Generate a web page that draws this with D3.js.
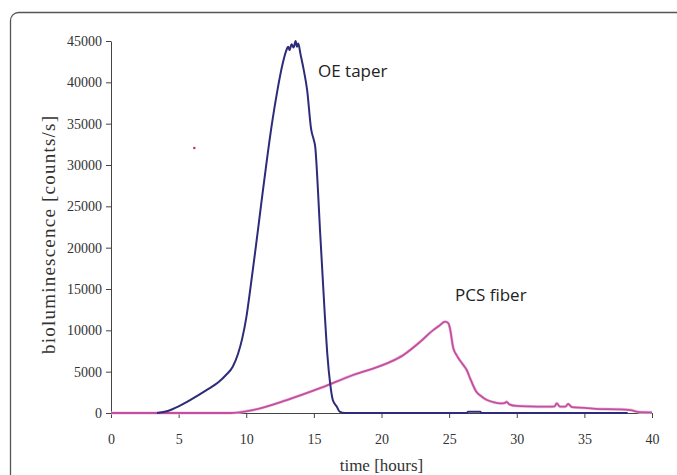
<!DOCTYPE html>
<html>
<head>
<meta charset="utf-8">
<script src="https://cdn.jsdelivr.net/npm/d3@7"></script>
<style>
    html, body { margin: 0; padding: 0; background: #fff; }
    #chart { width: 677px; height: 475px; }
    .axis path, .axis line { stroke: #444; stroke-width: 1; }
    .axis text { font-family: "Liberation Serif", "DejaVu Serif", serif; font-size: 14px; fill: #333; }
    .axis-title { font-family: "Liberation Serif", "DejaVu Serif", serif; font-size: 17px; fill: #333; }
    .note { font-family: "Open Sans", "Noto Sans", sans-serif; font-size: 17px; fill: #222; }
</style>
</head>
<body>
<div id="chart"></div>
<script>
"use strict";

// Values (hours, counts/s).
const xTicks = [0, 5, 10, 15, 20, 25, 30, 35, 40];
const yTicks = [0, 5000, 10000, 15000, 20000, 25000, 30000, 35000, 40000, 45000];

const taperHours = [3.4, 4.2, 5.0, 6.0, 7.0, 8.0, 8.5, 9.0, 9.4, 9.7, 10.0, 10.3, 10.7, 11.1, 11.5, 11.9, 12.3, 12.7,
    12.95, 13.1, 13.2, 13.35, 13.5, 13.65, 13.75, 13.85, 14.0, 14.25, 14.5, 14.8, 15.0, 15.1, 15.3, 15.45,
    15.8, 16.0, 16.2, 16.4, 16.7, 16.9, 17.3, 20, 26.3, 26.4, 27.3, 27.4, 32, 38.2];
const taperValues = [0, 250, 800, 1700, 2700, 3800, 4600, 5600, 7200, 9000, 11500, 15000, 20000, 25200, 30300, 35000, 39000, 42300,
    43800, 44300, 43900, 44600, 44200, 45000, 44300, 44700, 43500, 41500, 39100, 34300, 33000, 32200, 27000, 22200,
    12100, 7000, 3600, 1570, 760, 160, 0, 0, 0, 150, 150, 0, 0, 0];

const fiberHours = [0, 8.5, 8.8, 10.5, 13, 15.45, 17.9, 20.4, 21.6, 22.85, 23.8, 24.3, 24.7, 24.95, 25.06,
    25.3, 25.55, 25.7, 26.05, 26.3, 26.55, 27.0, 27.4, 27.8, 28.3, 28.75, 29.1, 29.25, 29.45, 30.0, 31.0, 32.5,
    32.8, 32.95, 33.2, 33.6, 33.8, 34.1, 35.0, 36.15, 37.5, 38.0, 38.4, 39.1, 40];
const fiberValues = [0, 0, 0, 360, 1570, 3000, 4600, 6000, 7000, 8600, 10000, 10600, 11050, 10850, 10250,
    7900, 7000, 6600, 5800, 5200, 4200, 2600, 2000, 1570, 1300, 1170, 1200, 1350, 1050, 850, 800, 760,
    800, 1170, 760, 760, 1090, 700, 620, 480, 450, 420, 360, 100, 80];

// stray red speck present in the reference
const strayHours = [6.16];
const strayValues = [32050];

const margin = {left: 111, top: 41, right: 25, bottom: 62};
const width = 677, height = 475;

const svg = d3.select("#chart")
    .append("svg")
    .attr("width", width)
    .attr("height", height);

// frame around the figure, running off the right and bottom edges
svg.append("rect")
    .attr("x", 10.5)
    .attr("y", 12.5)
    .attr("width", 700)
    .attr("height", 500)
    .attr("rx", 8)
    .attr("fill", "none")
    .attr("stroke", "#555")
    .attr("stroke-width", 1.3);

const xScale = d3.scaleLinear()
    .domain([0, 40])
    .range([margin.left, width - margin.right]);
const yScale = d3.scaleLinear()
    .domain([0, 45000])
    .range([height - margin.bottom, margin.top]);

const xAxis = d3.axisBottom(xScale)
    .tickValues(xTicks)
    .tickSize(5)
    .tickSizeOuter(0)
    .tickPadding(16)
    .tickFormat(d3.format("d"));
const yAxis = d3.axisLeft(yScale)
    .tickValues(yTicks)
    .tickSize(5)
    .tickSizeOuter(0)
    .tickPadding(4)
    .tickFormat(d3.format("d"));

svg.append("g")
    .attr("class", "axis")
    .attr("transform", `translate(0,${yScale(0)})`)
    .call(xAxis);
svg.append("g")
    .attr("class", "axis")
    .attr("transform", `translate(${xScale(0)},0)`)
    .call(yAxis);

const line = d3.line()
    .x(d => xScale(d[0]))
    .y(d => yScale(d[1]))
    .curve(d3.curveMonotoneX);

const taper = taperHours.map((h, i) => [h, taperValues[i]]);
const fiber = fiberHours.map((h, i) => [h, fiberValues[i]]);

// pink trace has a soft halo
svg.append("path")
    .datum(fiber)
    .attr("d", line)
    .attr("fill", "none")
    .attr("stroke", "#efc3e2")
    .attr("stroke-width", 3)
    .attr("stroke-linejoin", "round");
svg.append("path")
    .datum(fiber)
    .attr("d", line)
    .attr("fill", "none")
    .attr("stroke", "#c2509e")
    .attr("stroke-width", 1.8)
    .attr("stroke-linejoin", "round");

svg.append("path")
    .datum(taper)
    .attr("d", line)
    .attr("fill", "none")
    .attr("stroke", "#2d2b7a")
    .attr("stroke-width", 2)
    .attr("stroke-linejoin", "round");

svg.selectAll(".stray")
    .data(strayHours.map((h, i) => [h, strayValues[i]]))
    .join("circle")
    .attr("class", "stray")
    .attr("cx", d => xScale(d[0]))
    .attr("cy", d => yScale(d[1]))
    .attr("r", 1.3)
    .attr("fill", "#c0405a");

// annotations
svg.append("text")
    .attr("class", "note")
    .attr("x", 318)
    .attr("y", 77)
    .text("OE taper");
svg.append("text")
    .attr("class", "note")
    .attr("x", 455)
    .attr("y", 301)
    .text("PCS fiber");

// axis titles
svg.append("text")
    .attr("class", "axis-title")
    .attr("text-anchor", "middle")
    .attr("x", xScale(20))
    .attr("y", 471)
    .text("time [hours]");
svg.append("text")
    .attr("class", "axis-title")
    .attr("text-anchor", "middle")
    .attr("transform", `translate(55,235) rotate(-90)`)
    .style("font-size", "19px")
    .attr("textLength", 238)
    .attr("lengthAdjust", "spacing")
    .text("bioluminescence [counts/s]");
</script>
</body>
</html>
